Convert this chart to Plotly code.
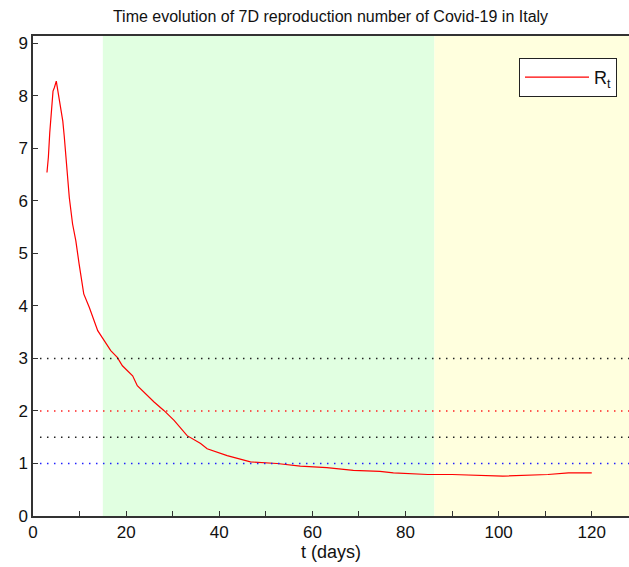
import plotly.graph_objects as go

# Data
t_days = [3, 3.3, 3.6, 4, 4.3, 4.6, 5, 5.4, 6, 6.4, 6.7, 7.2, 7.8, 8.5, 9.2, 9.9,
          10.9, 12.1, 13.9, 16.7, 18.1, 19.2, 21.4, 22.4, 26, 28.1, 30.3, 33.1,
          36, 37.4, 41.7, 46.7, 52.4, 57.4, 63.1, 68.8, 74.5, 77.4, 84.8, 90,
          100.9, 110.6, 115, 120]
r_t = [6.54, 6.83, 7.3, 7.8, 8.09, 8.16, 8.28, 8.06, 7.74, 7.52, 7.24, 6.64,
       6.06, 5.56, 5.24, 4.8, 4.23, 3.97, 3.53, 3.15, 3.02, 2.86, 2.67, 2.48,
       2.17, 2.01, 1.82, 1.53, 1.38, 1.28, 1.15, 1.03, 1.0, 0.95, 0.92, 0.87,
       0.85, 0.82, 0.79, 0.79, 0.76, 0.79, 0.82, 0.82]

threshold_values = [3, 2, 1.5, 1]
threshold_colors = ["#222222", "#ff2020", "#222222", "#2020ff"]

phase_starts = [15, 86.2]
phase_ends = [86.2, 128]
phase_colors = ["rgb(225,255,225)", "rgb(255,255,222)"]

x_range = [0, 128]
y_range = [0, 9.14]

fig = go.Figure()

shapes = []
for s, e, c in zip(phase_starts, phase_ends, phase_colors):
    shapes.append(dict(type="rect", xref="x", yref="y", x0=s, x1=e, y0=y_range[0], y1=y_range[1],
                       fillcolor=c, line=dict(width=0), layer="below"))
for v, c in zip(threshold_values, threshold_colors):
    shapes.append(dict(type="line", xref="x", yref="y", x0=1.5, x1=x_range[1], y0=v, y1=v,
                       line=dict(color=c, width=1.6, dash="1.5px,5.5px"), layer="above"))

fig.add_trace(go.Scatter(x=t_days, y=r_t, mode="lines", name="R<sub>t</sub>",
                         line=dict(color="#ff0000", width=1.2)))

font_family = "Liberation Sans, Arial, sans-serif"

fig.update_layout(
    width=629, height=567,
    margin=dict(l=33, r=0, t=36, b=51),
    paper_bgcolor="white",
    plot_bgcolor="white",
    shapes=shapes,
    title=dict(text="Time evolution of 7D reproduction number of Covid-19 in Italy",
               x=(33 + 628) / 2 / 629, xanchor="center", y=1 - 16 / 567, yanchor="middle",
               font=dict(family=font_family, size=16, color="#111111")),
    xaxis=dict(range=x_range, dtick=20, tick0=0, ticks="inside", ticklen=5,
               tickcolor="#333333", showline=True, linecolor="#333333", linewidth=1.5,
               mirror=True, showgrid=False, zeroline=False,
               tickfont=dict(family=font_family, size=17, color="#111111"),
               minor=dict(dtick=10, tick0=0, ticks="inside", ticklen=5, tickcolor="#333333"),
               title=dict(text="t (days)", font=dict(family=font_family, size=18, color="#111111"),
                          standoff=4)),
    yaxis=dict(range=y_range, dtick=1, tick0=0, ticks="inside", ticklen=5,
               tickcolor="#333333", showline=True, linecolor="#333333", linewidth=1.5,
               mirror=False, showgrid=False, zeroline=False,
               tickfont=dict(family=font_family, size=17, color="#111111")),
    legend=dict(x=(617 - 33) / 596, y=(516 - 58) / 480, xanchor="right", yanchor="top",
                bgcolor="white", bordercolor="#222222", borderwidth=1,
                itemwidth=64,
                font=dict(family=font_family, size=18, color="#111111")),
    showlegend=True,
)

fig.write_html("out.html", config={"displayModeBar": False},
               post_script="document.body.style.margin='0';")
